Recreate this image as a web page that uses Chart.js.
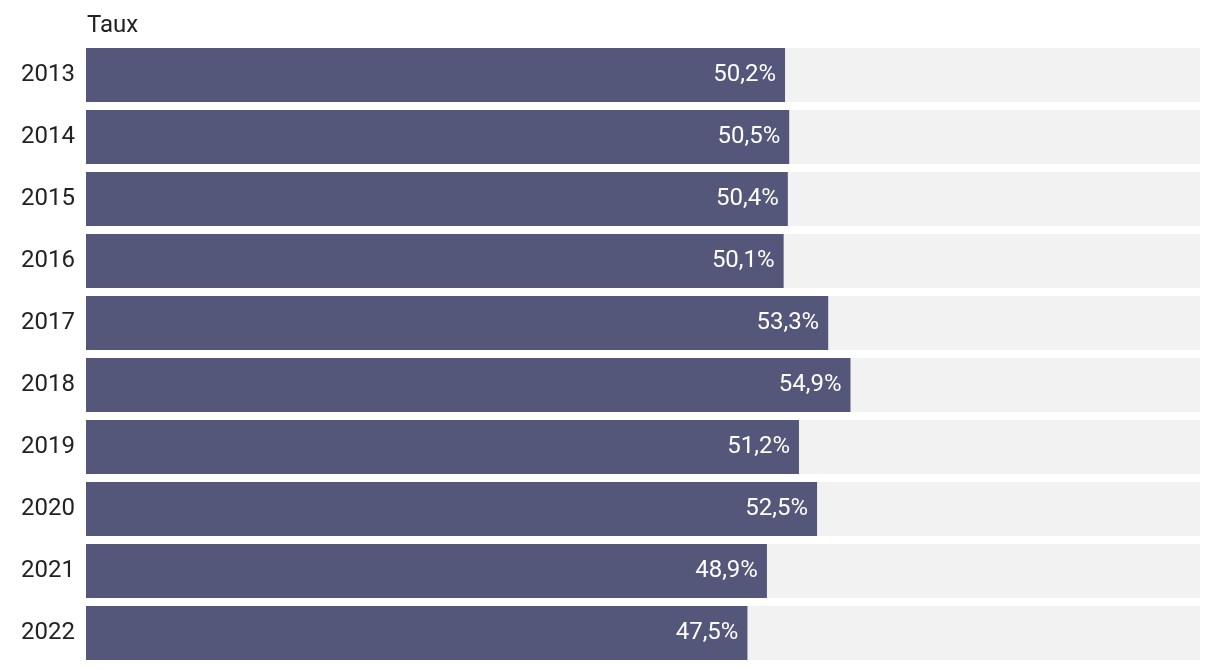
<!DOCTYPE html>
<html>
<head>
<meta charset="utf-8">
<script src="https://cdn.jsdelivr.net/npm/chart.js@4"></script>
<style>
  html, body { margin: 0; padding: 0; background: #fff; overflow: hidden; }
  canvas { display: block; }
</style>
</head>
<body>
<canvas id="tauxChart" width="1220" height="670"></canvas>
<script>
const years = ["2013", "2014", "2015", "2016", "2017", "2018", "2019", "2020", "2021", "2022"];
const taux = [50.2, 50.5, 50.4, 50.1, 53.3, 54.9, 51.2, 52.5, 48.9, 47.5];
const scaleMax = 80;
const track = years.map(() => scaleMax);

const FONT = "Roboto, 'Noto Sans', sans-serif";

// draws the value inside the end of each bar + the "Taux" header
const labelPlugin = {
  id: "valueLabels",
  afterDatasetsDraw(chart) {
    const ctx = chart.ctx;
    const meta = chart.getDatasetMeta(1);
    ctx.save();
    ctx.font = "24px " + FONT;
    ctx.fillStyle = "#ffffff";
    ctx.textAlign = "right";
    ctx.textBaseline = "middle";
    meta.data.forEach((bar, i) => {
      const txt = taux[i].toFixed(1).replace(".", ",") + "%";
      ctx.fillText(txt, bar.x - 9, bar.y);
    });
    ctx.fillStyle = "#222222";
    ctx.textAlign = "left";
    ctx.fillText("Taux", chart.chartArea.left + 1, 26);
    ctx.restore();
  }
};

new Chart(document.getElementById("tauxChart"), {
  type: "bar",
  data: {
    labels: years,
    datasets: [
      { data: track, backgroundColor: "#f2f2f2", grouped: false, order: 2,
        barPercentage: 1, categoryPercentage: 54 / 62 },
      { data: taux, backgroundColor: "#54567a", grouped: false, order: 1,
        barPercentage: 1, categoryPercentage: 54 / 62 }
    ]
  },
  options: {
    indexAxis: "y",
    responsive: false,
    animation: false,
    layout: { padding: { top: 44, bottom: 6, right: 20, left: 0 } },
    plugins: { legend: { display: false }, tooltip: { enabled: false } },
    scales: {
      x: { display: false, min: 0, max: scaleMax },
      y: {
        grid: { display: false, drawTicks: false },
        border: { display: false },
        ticks: { color: "#222222", font: { family: FONT, size: 24 }, padding: 11 },
        afterFit(axis) {
          axis.width = 86;
          // label half-heights would otherwise push the plot area in
          axis.paddingTop = 0;
          axis.paddingBottom = 0;
        }
      }
    }
  },
  plugins: [labelPlugin]
});
</script>
</body>
</html>
